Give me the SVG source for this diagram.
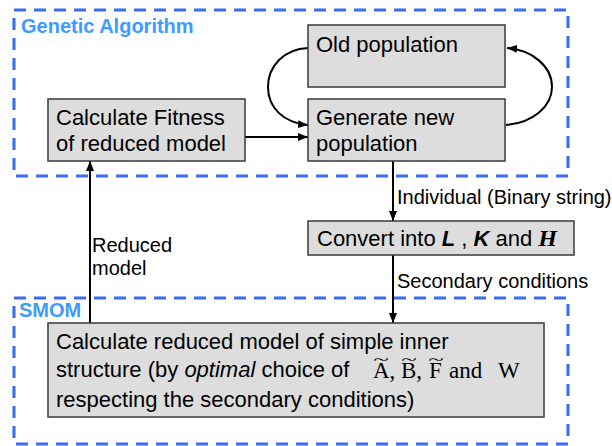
<svg xmlns="http://www.w3.org/2000/svg" width="612" height="446" viewBox="0 0 612 446">
<style>
.grp{fill:none;stroke:#3b6cf5;stroke-width:3;stroke-dasharray:12 8}
.ttl{font-family:"Liberation Sans",Arial,sans-serif;font-weight:bold;font-size:20px;fill:#3d9bff}
.box{fill:#dcdddc;stroke:#3a3a3a;stroke-width:1.5}
.t{font-family:"Liberation Sans",Arial,sans-serif;font-size:22px;fill:#000}
.lb{font-family:"Liberation Sans",Arial,sans-serif;font-size:20px;fill:#000}
.m{font-family:"Liberation Serif","Times New Roman",serif;font-size:23px;fill:#000}
.tl{font-family:"Liberation Serif","Times New Roman",serif;font-size:16px;fill:#000}
.c{fill:none;stroke:#000;stroke-width:2}
</style>
<defs>
<marker id="ah" viewBox="0 0 10 8" refX="10" refY="4" markerWidth="10" markerHeight="8" markerUnits="userSpaceOnUse" orient="auto">
<path d="M0,0 L10,4 L0,8 Z" fill="#000"/>
</marker>
</defs>
<g id="ga-group">
<rect class="grp" x="14" y="10" width="554" height="166"/>
<text class="ttl" x="21" y="33">Genetic Algorithm</text>
</g>
<g id="smom-group">
<rect class="grp" x="14" y="298" width="554" height="146"/>
<text class="ttl" x="19" y="317">SMOM</text>
</g>
<g id="connectors">
<path class="c" d="M245,137 L308,137" marker-end="url(#ah)"/>
<path class="c" d="M308,48 C284,49 268,66 268,87 C268,108 284,123 308,125" marker-end="url(#ah)"/>
<path class="c" d="M506,125 C532,123 552,107 552,87 C552,66 532,50 507,48" marker-end="url(#ah)"/>
<path class="c" d="M393,161 L393,221" marker-end="url(#ah)"/>
<path class="c" d="M393,255 L393,323" marker-end="url(#ah)"/>
<path class="c" d="M90,323 L90,161" marker-end="url(#ah)"/>
<text class="lb" x="397" y="204">Individual (Binary string)</text>
<text class="lb" x="397" y="288">Secondary conditions</text>
<text class="lb" x="92" y="252">Reduced</text>
<text class="lb" x="92" y="275">model</text>
</g>
<g id="old-population">
<rect class="box" x="308" y="25" width="197" height="62"/>
<text class="t" x="316" y="52">Old population</text>
</g>
<g id="generate-new-population">
<rect class="box" x="308" y="99" width="197" height="62"/>
<text class="t" x="316" y="125">Generate new</text>
<text class="t" x="316" y="151">population</text>
</g>
<g id="calculate-fitness">
<rect class="box" x="48" y="99" width="197" height="62"/>
<text class="t" x="56" y="125">Calculate Fitness</text>
<text class="t" x="56" y="151">of reduced model</text>
</g>
<g id="convert">
<rect class="box" x="308" y="221" width="266" height="34"/>
<text class="t" x="317" y="246">Convert into <tspan font-weight="bold" font-style="italic">L</tspan> , <tspan font-weight="bold" font-style="italic">K</tspan> and <tspan font-family="'Liberation Serif','Times New Roman',serif" font-weight="bold" font-style="italic" font-size="24px">H</tspan></text>
</g>
<g id="calculate-reduced-model">
<rect class="box" x="48" y="323" width="496" height="94"/>
<text class="t" x="56" y="349">Calculate reduced model of simple inner</text>
<text class="t" x="56" y="377">structure (by <tspan font-style="italic">optimal</tspan> choice of</text>
<text class="m" y="378"><tspan x="373">A,</tspan><tspan x="401">B,</tspan><tspan x="429">F</tspan><tspan x="449">and</tspan><tspan x="498">W</tspan></text>
<text class="tl" transform="translate(381,365) scale(1.8,0.9)" text-anchor="middle">~</text>
<text class="tl" transform="translate(409,365) scale(1.8,0.9)" text-anchor="middle">~</text>
<text class="tl" transform="translate(436,365) scale(1.8,0.9)" text-anchor="middle">~</text>
<text class="t" x="56" y="407">respecting the secondary conditions)</text>
</g>
</svg>
